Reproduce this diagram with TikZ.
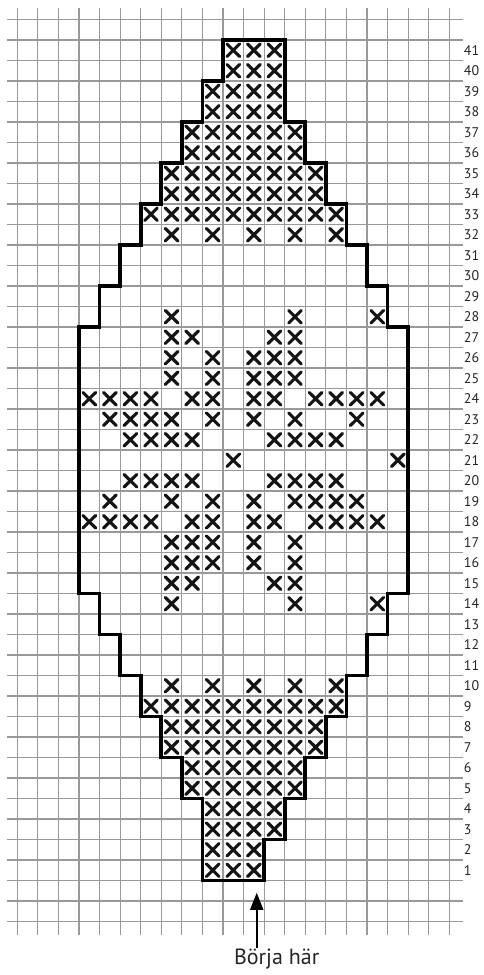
\documentclass[tikz,border=0pt]{standalone}
\usepackage{fontspec}
\setmainfont{PT Sans}
\usetikzlibrary{arrows.meta}
\begin{document}
\begin{tikzpicture}[x=20.57pt,y=20.5pt,
  gridline/.style={draw=black!40, line width=1.1pt},
  outline/.style={draw=black, line width=3.8pt, line join=miter},
  stitch/.style={draw=black!92, line width=3.1pt, line cap=round},
  rowlbl/.style={anchor=west, font=\fontsize{14}{15}\selectfont, inner sep=0pt, text=black!85},
  starttext/.style={anchor=base, font=\fontsize{22}{24}\selectfont, inner sep=1pt, text=black!85},
  pointer/.style={draw=black, line width=2pt, -{Triangle[width=13pt,length=17pt]}},
  ]
\useasboundingbox (-17.3pt,-94.5pt) rectangle ++(483pt,975pt);
\fill[white] (-17.3pt,-94.5pt) rectangle ++(483pt,975pt);
% grid
\foreach \k in {-2,...,42} \draw[gridline] (-0.5,\k) -- (21.67,\k);
\foreach \k in {0,...,21} \draw[gridline] (\k,-2.66) -- (\k,42.55);
% stitches
\foreach \rr/\cols in {41/{10,11,12},40/{10,11,12},39/{9,10,11,12},38/{9,10,11,12},37/{8,9,10,11,12,13},36/{8,9,10,11,12,13},35/{7,8,9,10,11,12,13,14},34/{7,8,9,10,11,12,13,14},33/{6,7,8,9,10,11,12,13,14,15},32/{7,9,11,13,15},28/{7,13,17},27/{7,8,12,13},26/{7,9,11,12,13},25/{7,9,11,12,13},24/{3,4,5,6,8,9,11,12,14,15,16,17},23/{4,5,6,7,9,11,13,16},22/{5,6,7,8,12,13,14,15},21/{10,18},20/{5,6,7,8,12,13,14,15},19/{4,7,9,11,13,14,15,16},18/{3,4,5,6,8,9,11,12,14,15,16,17},17/{7,8,9,11,13},16/{7,8,9,11,13},15/{7,8,12,13},14/{7,13,17},10/{7,9,11,13,15},9/{6,7,8,9,10,11,12,13,14,15},8/{7,8,9,10,11,12,13,14},7/{7,8,9,10,11,12,13,14},6/{8,9,10,11,12,13},5/{8,9,10,11,12,13},4/{9,10,11,12},3/{9,10,11,12},2/{9,10,11},1/{9,10,11}}
  \foreach \cc in \cols
    \draw[stitch] (\cc+0.19,\rr-0.81) -- (\cc+0.81,\rr-0.19) (\cc+0.19,\rr-0.19) -- (\cc+0.81,\rr-0.81);
% outline
\draw[outline] (10,41) -- (13,41) -- (13,37) -- (14,37) -- (14,35) -- (15,35) -- (15,33) -- (16,33) -- (16,31) -- (17,31) -- (17,29) -- (18,29) -- (18,27) -- (19,27) -- (19,14) -- (18,14) -- (18,12) -- (17,12) -- (17,10) -- (16,10) -- (16,8) -- (15,8) -- (15,6) -- (14,6) -- (14,4) -- (13,4) -- (13,2) -- (12,2) -- (12,0) -- (9,0) -- (9,4) -- (8,4) -- (8,6) -- (7,6) -- (7,8) -- (6,8) -- (6,10) -- (5,10) -- (5,12) -- (4,12) -- (4,14) -- (3,14) -- (3,27) -- (4,27) -- (4,29) -- (5,29) -- (5,31) -- (6,31) -- (6,33) -- (7,33) -- (7,35) -- (8,35) -- (8,37) -- (9,37) -- (9,39) -- (10,39) -- cycle;
% row labels
\foreach \n in {1,...,41} \node[rowlbl] (row\n) at (21.7,\n-0.5) {\n};
% start marker
\coordinate (tip) at (11.64,-0.6);
\node[starttext] (start) at (12.61,-4.12) {Börja här};
\draw[pointer] (start.north -| tip) -- (tip);
\end{tikzpicture}
\end{document}
